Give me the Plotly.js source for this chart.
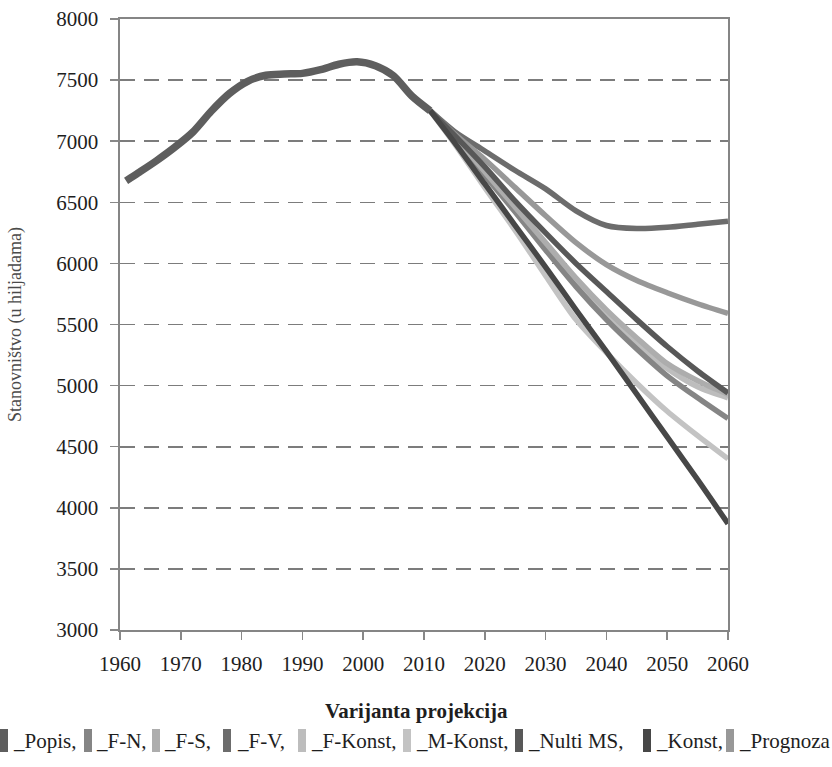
<!DOCTYPE html>
<html>
<head>
<meta charset="utf-8">
<script src="https://cdn.plot.ly/plotly-3.0.1.min.js"></script>
<style>html,body{margin:0;padding:0;background:#fff;}#chart{width:832px;height:767px;}</style>
</head>
<body>
<div id="chart"></div>
<script>
// ---- data (thousands of inhabitants) ----
const popisYears = [1961, 1963, 1966, 1969, 1972, 1975, 1978, 1981, 1984, 1987, 1990, 1993, 1996, 1999, 2002, 2005, 2008, 2011];
const popisValues = [6675, 6740, 6840, 6950, 7075, 7245, 7390, 7490, 7540, 7550, 7555, 7585, 7630, 7650, 7618, 7535, 7370, 7250];

const projYears = [2011, 2015, 2020, 2025, 2030, 2035, 2040, 2045, 2050, 2055, 2060];
const fN       = [7250, 7020, 6720, 6420, 6110, 5810, 5540, 5300, 5080, 4900, 4730];
const fS       = [7250, 7040, 6750, 6460, 6170, 5880, 5620, 5390, 5180, 5040, 4930];
const fV       = [7250, 7080, 6920, 6760, 6610, 6430, 6310, 6285, 6295, 6320, 6345];
const fKonst   = [7250, 7030, 6730, 6440, 6140, 5850, 5580, 5340, 5140, 4990, 4900];
const mKonst   = [7250, 6980, 6620, 6270, 5900, 5540, 5270, 5020, 4790, 4590, 4400];
const nultiMS  = [7250, 7050, 6790, 6510, 6250, 6000, 5770, 5540, 5320, 5120, 4940];
const konst    = [7250, 6990, 6650, 6310, 5970, 5620, 5280, 4930, 4580, 4230, 3870];
const prognoza = [7250, 7060, 6850, 6620, 6390, 6170, 5990, 5860, 5760, 5670, 5590];

const legendLabels = ["_Popis,", "_F-N,", "_F-S,", "_F-V,", "_F-Konst,", "_M-Konst,", "_Nulti MS,", "_Konst,", "_Prognoza"];
const seriesColors = ["#5e5e5e", "#858585", "#adadad", "#6c6c6c", "#bdbdbd", "#c3c3c3", "#585858", "#474747", "#989898"];
const yTickVals = [3000, 3500, 4000, 4500, 5000, 5500, 6000, 6500, 7000, 7500, 8000];
const xTickVals = [1960, 1970, 1980, 1990, 2000, 2010, 2020, 2030, 2040, 2050, 2060];

const projSeries = [fN, fS, fV, fKonst, mKonst, nultiMS, konst, prognoza];

// ---- layout helpers ----
const L = 120, R = 104, T = 19, B = 137, W = 832, H = 767;
const pw = W - L - R, ph = H - T - B;
const px = v => (v - L) / pw;
const py = v => (H - B - v) / ph;
const FONT = 'Liberation Serif';

const traces = [];
const order = [4, 3, 8, 1, 5, 2, 6, 7];
order.forEach(i => {
  traces.push({
    x: projYears, y: projSeries[i - 1], type: 'scatter', mode: 'lines',
    name: legendLabels[i], showlegend: false,
    line: {color: seriesColors[i], width: 5.5, shape: 'spline', smoothing: 0.8}
  });
});
traces.push({
  x: popisYears, y: popisValues, type: 'scatter', mode: 'lines',
  name: legendLabels[0], showlegend: false,
  line: {color: seriesColors[0], width: 7.5, shape: 'spline', smoothing: 0.8}
});

// legend item pixel positions
const rectX = [0, 84, 152, 223, 298, 403, 515, 643, 726];
const rectW = 8;
const textX = [11, 94, 162, 235, 309, 414, 526, 654, 737];

const shapes = [];
const annotations = [];
legendLabels.forEach((lab, i) => {
  shapes.push({type: 'rect', xref: 'paper', yref: 'paper',
    x0: px(rectX[i]), x1: px(rectX[i] + rectW), y0: py(752), y1: py(729),
    fillcolor: seriesColors[i], line: {width: 0}});
  annotations.push({xref: 'paper', yref: 'paper', x: px(textX[i]), y: py(741),
    xanchor: 'left', yanchor: 'middle', showarrow: false, text: lab,
    font: {family: FONT, size: 21, color: '#1e1e1e'}});
});
annotations.push({xref: 'paper', yref: 'paper', x: px(416), y: py(711),
  xanchor: 'center', yanchor: 'middle', showarrow: false,
  text: '<b>Varijanta projekcija</b>',
  font: {family: FONT, size: 21, color: '#1e1e1e'}});

const layout = {
  width: W, height: H,
  margin: {l: L, r: R, t: T, b: B, pad: 0},
  paper_bgcolor: '#ffffff', plot_bgcolor: '#ffffff',
  showlegend: false,
  font: {family: FONT, size: 20, color: '#1e1e1e'},
  xaxis: {
    range: [1960, 2060], tickvals: xTickVals, ticks: 'outside', ticklen: 8, tickcolor: '#888',
    tickwidth: 1.5, showgrid: false, zeroline: false, showline: true, linecolor: '#858585',
    linewidth: 1.6, mirror: true, ticklabelstandoff: 6,
    tickfont: {family: FONT, size: 21, color: '#1e1e1e'}
  },
  yaxis: {
    range: [3000, 8000], tickvals: yTickVals, ticks: 'outside', ticklen: 8, tickcolor: '#888',
    tickwidth: 1.5, showgrid: true, gridcolor: '#7c7c7c', gridwidth: 1.6, griddash: '15px,9px',
    zeroline: false, showline: true, linecolor: '#858585', linewidth: 1.6, mirror: true,
    ticklabelstandoff: 8,
    tickfont: {family: FONT, size: 21, color: '#1e1e1e'},
    title: {text: 'Stanovništvo (u hiljadama)', standoff: 30,
      font: {family: FONT, size: 18, color: '#4a4a4a'}}
  },
  shapes: shapes,
  annotations: annotations
};

Plotly.newPlot('chart', traces, layout, {displayModeBar: false, staticPlot: true});
</script>
</body>
</html>
